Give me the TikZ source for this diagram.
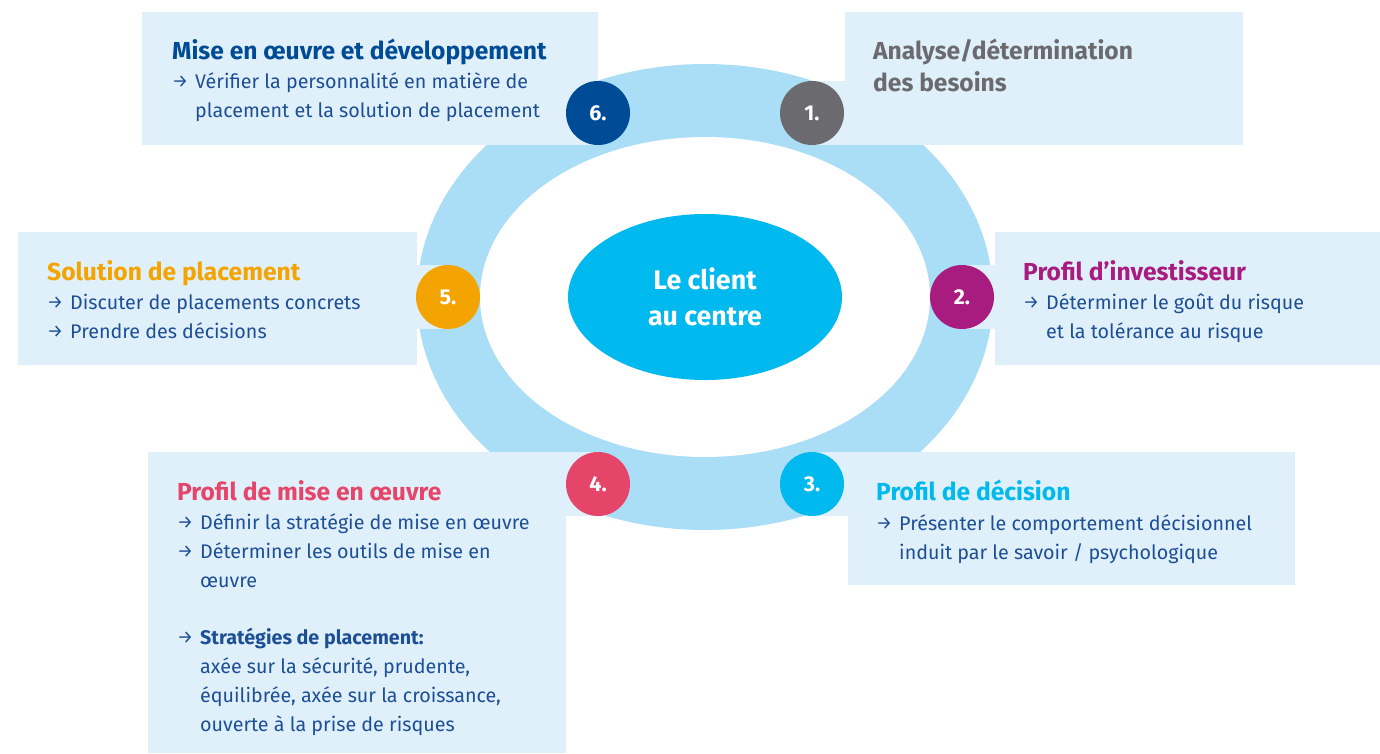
\documentclass[tikz,border=0pt]{standalone}
\usepackage{fontspec}
\setmainfont{Fira Sans}
\usetikzlibrary{shapes.geometric}
\definecolor{boxbg}{HTML}{DFF0FA}
\definecolor{ringc}{HTML}{A9DEF6}
\definecolor{cyanc}{HTML}{00B9EE}
\definecolor{navy}{HTML}{004B96}
\definecolor{greyc}{HTML}{6B6A6F}
\definecolor{purp}{HTML}{A81C80}
\definecolor{rosec}{HTML}{E6456A}
\definecolor{orangec}{HTML}{F4A400}
\definecolor{bodyc}{HTML}{1D4F96}
\newcommand{\arr}{\makebox[23pt][l]{\raisebox{0.5pt}{\fontsize{18}{18}\selectfont →}}}
\newcommand{\ind}{\hspace*{23pt}}
\begin{document}
\begin{tikzpicture}[x=1pt,y=-1pt,
  bg/.style={fill=boxbg},
  num/.style={circle, minimum size=64pt, inner sep=0pt, text=white, font=\fontsize{21.5}{24}\selectfont\bfseries},
  ttl/.style={anchor=base west, inner sep=0pt, font=\fontsize{24.6}{32}\selectfont\bfseries},
  bod/.style={anchor=base west, inner sep=0pt, text=bodyc, font=\fontsize{19.7}{29}\selectfont},
]
\useasboundingbox (0,0) rectangle (1380,753);
% ring
\fill[ringc] (705,297) ellipse [x radius=288pt, y radius=233pt];
\fill[white] (705,297) ellipse [x radius=225pt, y radius=160pt];
% boxes
\fill[bg] (142,12) rectangle (598,145);
\fill[bg] (845,12) rectangle (1243,145);
\fill[bg] (812,81) rectangle (845,145);
\fill[bg] (18,232) rectangle (417,365);
\fill[bg] (417,265) rectangle (448,329);
\fill[bg] (995,232) rectangle (1380,365);
\fill[bg] (962,265) rectangle (995,329);
\fill[bg] (148,452) rectangle (566,753);
\fill[bg] (566,452) rectangle (598,516);
\fill[bg] (848,452) rectangle (1295,585);
\fill[bg] (812,452) rectangle (848,516);
% center
\node[ellipse, fill=cyanc, minimum width=274pt, minimum height=166pt, inner sep=0pt, text=white, align=center,
  font=\fontsize{26.8}{36}\selectfont\bfseries] (center) at (705,297) {Le client\\au centre};
% numbers
\node[num, fill=greyc] (n1) at (812,113) {1.};
\node[num, fill=purp] (n2) at (962,297) {2.};
\node[num, fill=cyanc] (n3) at (812,484) {3.};
\node[num, fill=rosec] (n4) at (598,484) {4.};
\node[num, fill=orangec] (n5) at (448,297) {5.};
\node[num, fill=navy] (n6) at (598,113) {6.};
% box 6
\node[ttl, text=navy] (t6) at (172,59) {Mise en œuvre et développement};
\node[bod] (b6) at (172,88) {\parbox[t]{420pt}{\arr Vérifier la personnalité en matière de\\\ind placement et la solution de placement}};
% box 1
\node[ttl, text=greyc] (t1) at (873,59) {\parbox[t]{360pt}{Analyse/détermination\\des besoins}};
% box 5
\node[ttl, text=orangec] (t5) at (47,280) {Solution de placement};
\node[bod] (b5) at (47,309) {\parbox[t]{360pt}{\arr Discuter de placements concrets\\\arr Prendre des décisions}};
% box 2
\node[ttl, text=purp] (t2) at (1023,280) {Profil d’investisseur};
\node[bod] (b2) at (1023,309) {\parbox[t]{350pt}{\arr Déterminer le goût du risque\\\ind et la tolérance au risque}};
% box 4
\node[ttl, text=rosec] (t4) at (177,500) {Profil de mise en œuvre};
\node[bod] (b4) at (177,529) {\parbox[t]{380pt}{\arr Définir la stratégie de mise en œuvre\\\arr Déterminer les outils de mise en\\\ind œuvre\\[28pt]\arr \textbf{Stratégies de placement:}\\\ind axée sur la sécurité, prudente,\\\ind équilibrée, axée sur la croissance,\\\ind ouverte à la prise de risques}};
% box 3
\node[ttl, text=cyanc] (t3) at (876,500) {Profil de décision};
\node[bod] (b3) at (876,530) {\parbox[t]{410pt}{\arr Présenter le comportement décisionnel\\\ind induit par le savoir / psychologique}};
\end{tikzpicture}
\end{document}
